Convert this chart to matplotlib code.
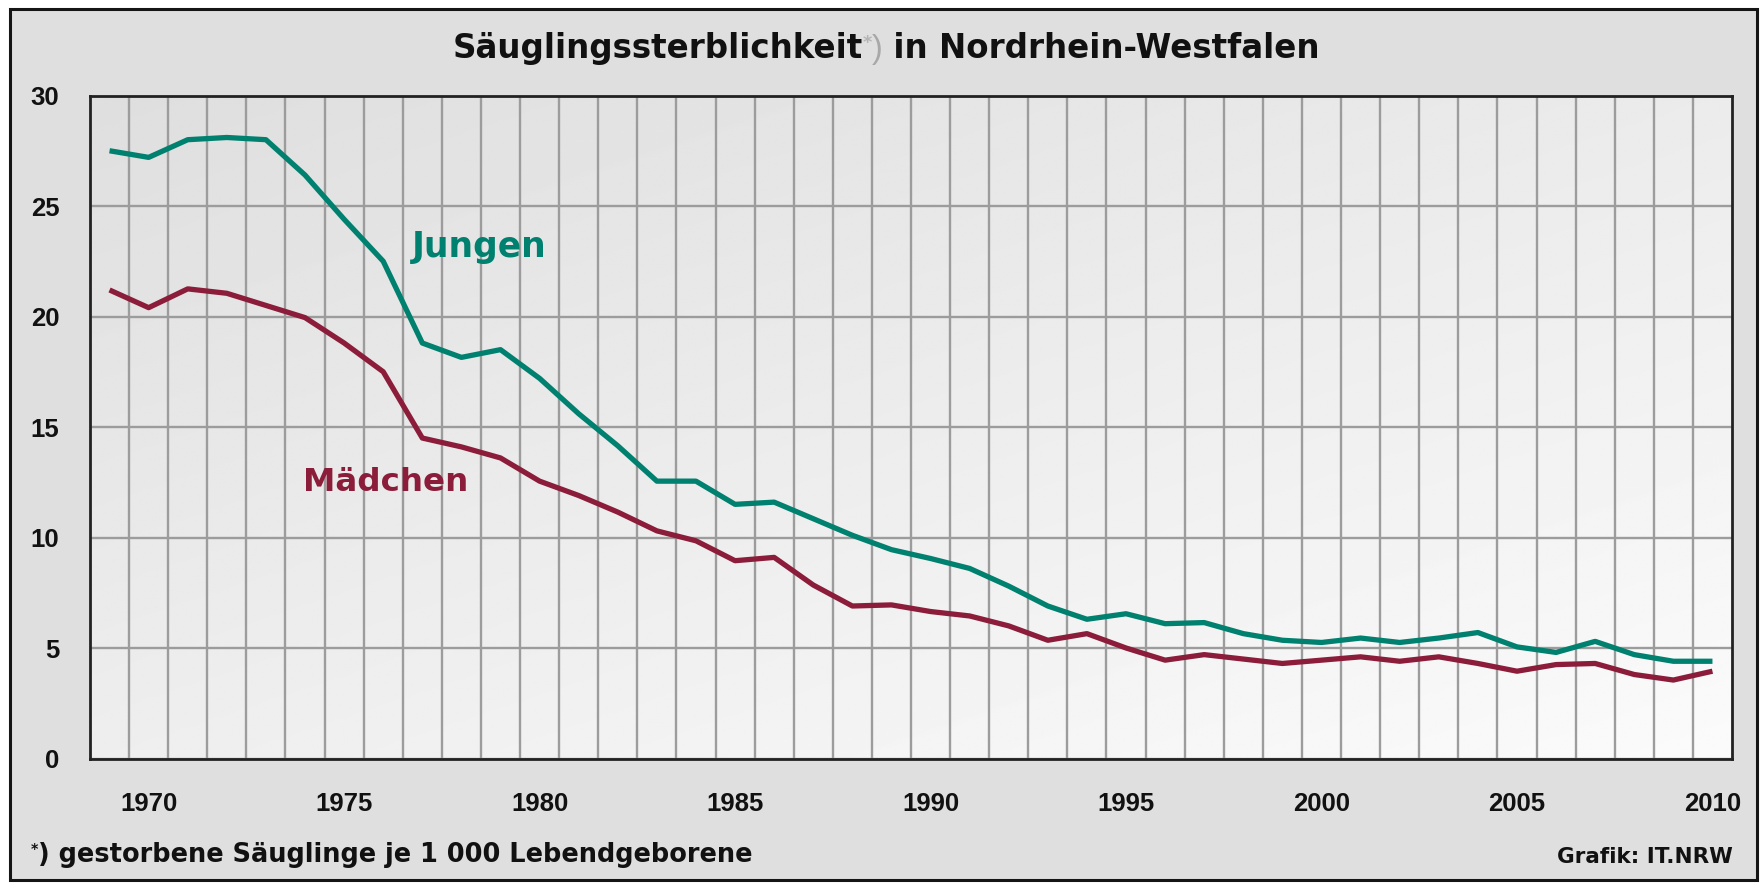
import matplotlib
matplotlib.use("Agg")
import matplotlib.pyplot as plt
import numpy as np
from matplotlib.patches import Rectangle

# ---------------- data ----------------
years = list(range(1969, 2011))
jungen = [27.5, 27.2, 28.0, 28.1, 28.0, 26.4, 24.4, 22.5, 18.8, 18.15,
          18.5, 17.2, 15.6, 14.15, 12.55, 12.55, 11.5, 11.6, 10.85, 10.1,
          9.45, 9.05, 8.6, 7.8, 6.9, 6.3, 6.55, 6.1, 6.15, 5.65,
          5.35, 5.25, 5.45, 5.25, 5.45, 5.7, 5.05, 4.8, 5.3, 4.7,
          4.4, 4.4]
maedchen = [21.2, 20.4, 21.25, 21.05, 20.5, 19.95, 18.8, 17.5, 14.5, 14.1,
            13.6, 12.55, 11.9, 11.15, 10.3, 9.85, 8.95, 9.1, 7.85, 6.9,
            6.95, 6.65, 6.45, 6.0, 5.35, 5.65, 5.0, 4.45, 4.7, 4.5,
            4.3, 4.45, 4.6, 4.4, 4.6, 4.3, 3.95, 4.25, 4.3, 3.8,
            3.55, 3.95]
ytick_values = [0, 5, 10, 15, 20, 25, 30]
xtick_years = [1970, 1975, 1980, 1985, 1990, 1995, 2000, 2005, 2010]
series_names = ["Jungen", "Mädchen"]
title_main = "Säuglingssterblichkeit"
title_star = "*"
title_paren = ")"
title_rest = " in Nordrhein-Westfalen"
footnote_star = "*"
footnote_text = ") gestorbene Säuglinge je 1 000 Lebendgeborene"
source_text = "Grafik: IT.NRW"

# ---------------- style ----------------
FONT = "Liberation Sans"
WIDE = "DejaVu Sans"
TEAL = "#00806f"
MAROON = "#8c1d3a"
GRID = "#9c9c9c"

W, H = 1762, 888
fig = plt.figure(figsize=(W / 100, H / 100), dpi=100, facecolor="white")

# outer gray frame
fig.patches.append(Rectangle((10 / W, 8 / H), (1757 - 10) / W, (879 - 8) / H,
                             transform=fig.transFigure, facecolor="#dfdfdf",
                             edgecolor="#151515", lw=2.2, zorder=-10))

left, right, top, bottom = 90, 1732, 95.5, 758.5
ax = fig.add_axes([left / W, 1 - bottom / H, (right - left) / W, (bottom - top) / H])
ax.set_zorder(1)

# gradient background inside plot area
gx, gy = np.meshgrid(np.linspace(0, 1, 300), np.linspace(0, 1, 300))
grad = 0.872 + 0.112 * (0.45 * gx + 0.55 * gy)
ax.imshow(grad, cmap="gray", vmin=0, vmax=1, extent=[0, 1, 0, 1],
          transform=ax.transAxes, aspect="auto", zorder=0, interpolation="bilinear")

ax.plot(years, jungen, color=TEAL, lw=3.8, solid_joinstyle="round",
        solid_capstyle="butt", zorder=3)
ax.plot(years, maedchen, color=MAROON, lw=3.8, solid_joinstyle="round",
        solid_capstyle="butt", zorder=3)

ax.set_xlim(years[0] - 0.5, years[-1] + 0.5)
ax.set_ylim(ytick_values[0], ytick_values[-1])
ax.set_yticks(ytick_values)
ax.set_xticks(xtick_years)
ax.set_xticks(np.array(years[:-1]) + 0.5, minor=True)
ax.set_xticklabels([str(y) for y in xtick_years])
ax.set_axisbelow(True)
ax.grid(which="minor", axis="x", color=GRID, lw=1.7)
ax.grid(which="major", axis="y", color=GRID, lw=1.7)
ax.grid(which="major", axis="x", visible=False)
ax.tick_params(which="both", length=0)
ax.tick_params(axis="y", pad=22)
ax.tick_params(axis="x", pad=24)
for lab in ax.get_xticklabels() + ax.get_yticklabels():
    lab.set_fontfamily(FONT)
    lab.set_fontweight("bold")
    lab.set_fontsize(18.5)
    lab.set_color("#111111")
for sp in ax.spines.values():
    sp.set_color("#222222")
    sp.set_linewidth(2.0)
    sp.set_zorder(4)


def place(segments, x_px, base_px, align, target_w=None):
    """segments: list of (text, kwargs, dy_px)"""
    texts = []
    for s, kw, dy in segments:
        t = fig.text(0, 0, s, va="baseline", ha="left", **kw)
        texts.append((t, dy))
    r = fig.canvas.get_renderer()
    widths = [t.get_window_extent(r).width for t, _ in texts]
    if target_w is not None:
        f = target_w / sum(widths)
        for t, _ in texts:
            t.set_fontsize(t.get_fontsize() * f)
        widths = [t.get_window_extent(r).width for t, _ in texts]
    total = sum(widths)
    if align == "center":
        x = x_px - total / 2
    elif align == "right":
        x = x_px - total
    else:
        x = x_px
    for (t, dy), w in zip(texts, widths):
        t.set_position((x / W, (H - base_px + dy) / H))
        x += w
    return texts


fig.canvas.draw()

place([(title_main, dict(fontsize=22, fontweight="bold", family=WIDE, color="#111111"), 0),
       (title_star, dict(fontsize=12, fontweight="bold", family=WIDE, color="#b4b4b4"), 10),
       (title_paren, dict(fontsize=22, fontweight="normal", family=FONT, color="#a8a8a8"), 0),
       (title_rest, dict(fontsize=22, fontweight="bold", family=WIDE, color="#111111"), 0)],
      886, 58, "center", target_w=866)

place([(footnote_star, dict(fontsize=10, fontweight="bold", family=WIDE, color="#111111"), 9),
       (footnote_text, dict(fontsize=18, fontweight="bold", family=WIDE, color="#111111"), 0)],
      31, 862, "left", target_w=724)

place([(source_text, dict(fontsize=13, fontweight="bold", family=WIDE, color="#111111"), 0)],
      1733, 863, "right", target_w=175)

# series labels (in data area, positioned in pixels)
place([(series_names[0], dict(fontsize=24, fontweight="bold", family=WIDE, color=TEAL, zorder=5), 0)],
      479, 257, "center", target_w=135)
place([(series_names[1], dict(fontsize=24, fontweight="bold", family=WIDE, color=MAROON, zorder=5), 0)],
      386, 491, "center", target_w=165)

fig.savefig("out.png", dpi=100, facecolor="white")
